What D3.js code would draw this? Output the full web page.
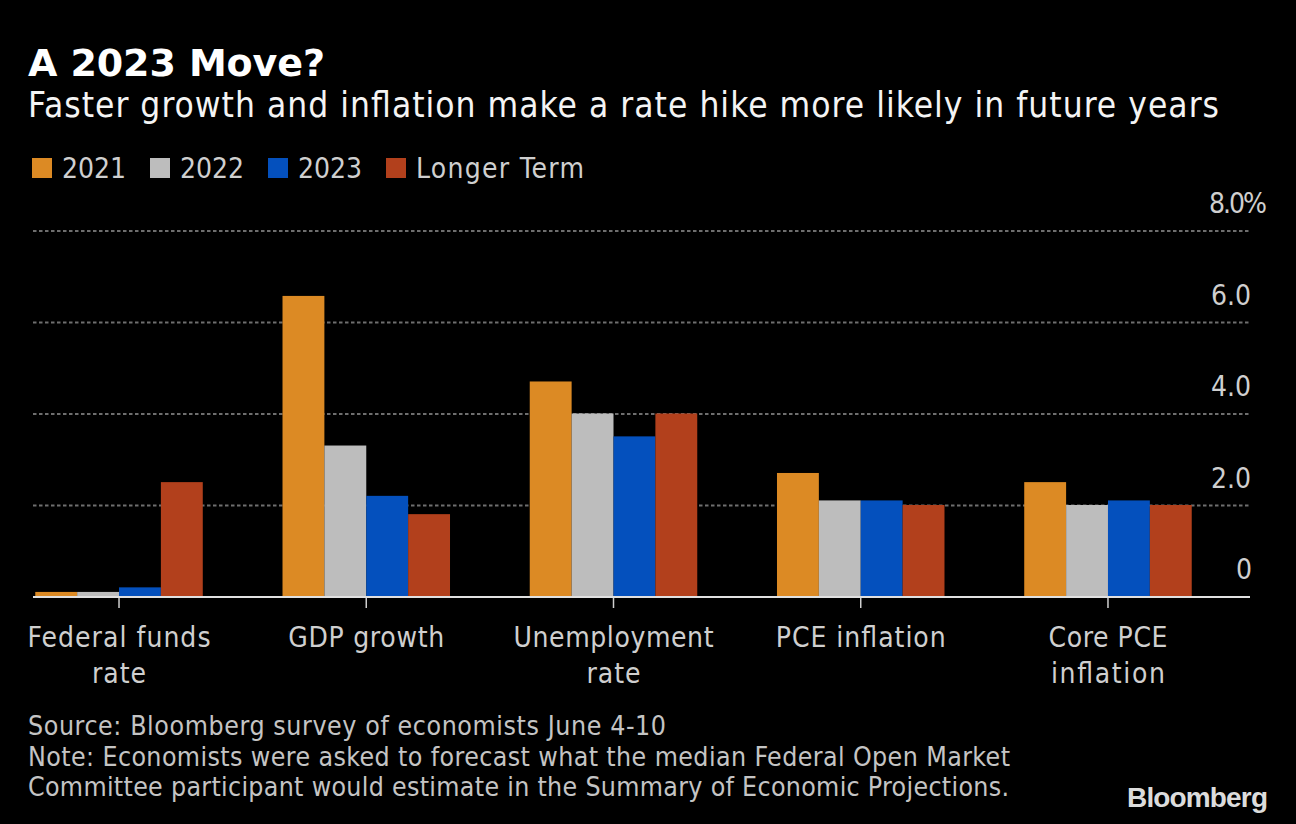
<!DOCTYPE html>
<html>
<head>
<meta charset="utf-8">
<script src="https://d3js.org/d3.v7.min.js"></script>
<style>
  html, body { margin: 0; background: #000; }
  text { font-family: "DejaVu Sans Condensed", "DejaVu Sans", sans-serif; }
</style>
</head>
<body>
<div id="my_dataviz"></div>
<script>
// chart data
var categories = ["Federal funds rate", "GDP growth", "Unemployment rate", "PCE inflation", "Core PCE inflation"];
var seriesNames = ["2021", "2022", "2023", "Longer Term"];
var values2021 = [0.1, 6.57, 4.7, 2.7, 2.5];
var values2022 = [0.1, 3.3, 4.0, 2.1, 2.0];
var values2023 = [0.2, 2.2, 3.5, 2.1, 2.1];
var valuesLonger = [2.5, 1.8, 4.0, 2.0, 2.0];
var yTicks = [0, 2, 4, 6, 8];
var yTickLabels = ["0", "2.0", "4.0", "6.0", "8.0%"];
var categoryLines = [["Federal funds", "rate"], ["GDP growth"], ["Unemployment", "rate"], ["PCE inflation"], ["Core PCE", "inflation"]];
var sourceLines = [
  "Source: Bloomberg survey of economists June 4-10",
  "Note: Economists were asked to forecast what the median Federal Open Market",
  "Committee participant would estimate in the Summary of Economic Projections."
];

var colors = ["#dc8a24", "#bdbdbd", "#0450bd", "#b2401c"];
var allSeries = [values2021, values2022, values2023, valuesLonger];

var svg = d3.select("#my_dataviz").append("svg")
  .attr("width", 1296).attr("height", 824)
  .style("display", "block");

// fits a text to the width it has in the picture
function put(x, y, str, size, fill, width, anchor) {
  var t = svg.append("text")
    .attr("x", x).attr("y", y)
    .attr("fill", fill)
    .attr("font-size", size)
    .attr("text-anchor", anchor || "start")
    .text(str);
  if (width) t.attr("textLength", width).attr("lengthAdjust", "spacing");
  return t;
}

// titles
put(28, 76, "A 2023 Move?", 38, "#fff", 297)
  .attr("font-weight", "bold")
  .style("font-family", "'DejaVu Sans', sans-serif");
put(28, 117, "Faster growth and inflation make a rate hike more likely in future years", 35, "#f4f4f4", 1191);

// legend
var legendX = [32, 150, 268, 386];
var legendW = [64, 64, 64, 168];
seriesNames.forEach(function(name, i) {
  svg.append("rect")
    .attr("x", legendX[i]).attr("y", 158)
    .attr("width", 20).attr("height", 20)
    .attr("fill", colors[i]);
  put(legendX[i] + 30, 178, name, 28, "#cfcfcf", legendW[i]);
});

// scales
var x0 = d3.scaleBand().domain(categories).range([-4.6, 1231.6]).paddingInner(0.3225).paddingOuter(0.16125);
var x1 = d3.scaleBand().domain(d3.range(seriesNames.length)).range([0, x0.bandwidth()]);
var y = d3.scaleLinear().domain([0, 8]).range([597, 231]);

// grid lines
svg.append("g").selectAll("line")
  .data(yTicks.filter(function(d) { return d > 0; }))
  .join("line")
  .attr("x1", 33).attr("x2", 1250)
  .attr("y1", function(d) { return y(d); })
  .attr("y2", function(d) { return y(d); })
  .attr("stroke", "#6e6e6e")
  .attr("stroke-width", 2)
  .attr("stroke-dasharray", "3.5 2.5");

// y labels sit above their grid line
var yLabelWidths = [15, 40, 40, 40, 58];
yTicks.forEach(function(d, i) {
  put(d === 0 ? 1236 : (d === 8 ? 1209 : 1211), y(d) - 18, yTickLabels[i], 28, "#cfcfcf", yLabelWidths[i]);
});

// bars, a bit taller so they cover the grid line they touch
allSeries.forEach(function(vals, s) {
  svg.append("g").selectAll("rect")
    .data(vals)
    .join("rect")
    .attr("x", function(d, i) { return x0(categories[i]) + x1(s); })
    .attr("y", function(d) { return y(d) - 0.5; })
    .attr("width", x1.bandwidth())
    .attr("height", function(d) { return y(0) - y(d) + 0.5; })
    .attr("fill", colors[s]);
});

// x axis with ticks, labels are added by hand because they wrap
var xAxis = svg.append("g")
  .attr("transform", "translate(0,597)")
  .call(d3.axisBottom(x0).tickSize(11).tickSizeOuter(0).tickFormat(""));
xAxis.select(".domain").remove();
xAxis.selectAll("line").attr("stroke", "#cfcfcf").attr("stroke-width", 1.5);
svg.append("line")
  .attr("x1", 33).attr("x2", 1250)
  .attr("y1", 597).attr("y2", 597)
  .attr("stroke", "#e0e0e0").attr("stroke-width", 2);

var categoryWidths = [[183, 54], [156], [200, 54], [170], [119, 114]];
categoryLines.forEach(function(lines, i) {
  var cx = x0(categories[i]) + x0.bandwidth() / 2;
  lines.forEach(function(line, j) {
    put(cx, 647 + j * 36, line, 28, "#cfcfcf", categoryWidths[i][j], "middle");
  });
});

// footer
var sourceWidths = [638, 982, 981];
sourceLines.forEach(function(line, i) {
  put(28, 735 + i * 30.5, line, 26.5, "#c4c4c4", sourceWidths[i]);
});

// logo
svg.append("text")
  .attr("x", 1268).attr("y", 807)
  .attr("text-anchor", "end")
  .attr("fill", "#dcdcdc")
  .attr("font-size", 28)
  .attr("font-weight", "bold")
  .style("font-family", "'Liberation Sans', Arial, sans-serif")
  .attr("textLength", 141)
  .text("Bloomberg");
</script>
</body>
</html>
